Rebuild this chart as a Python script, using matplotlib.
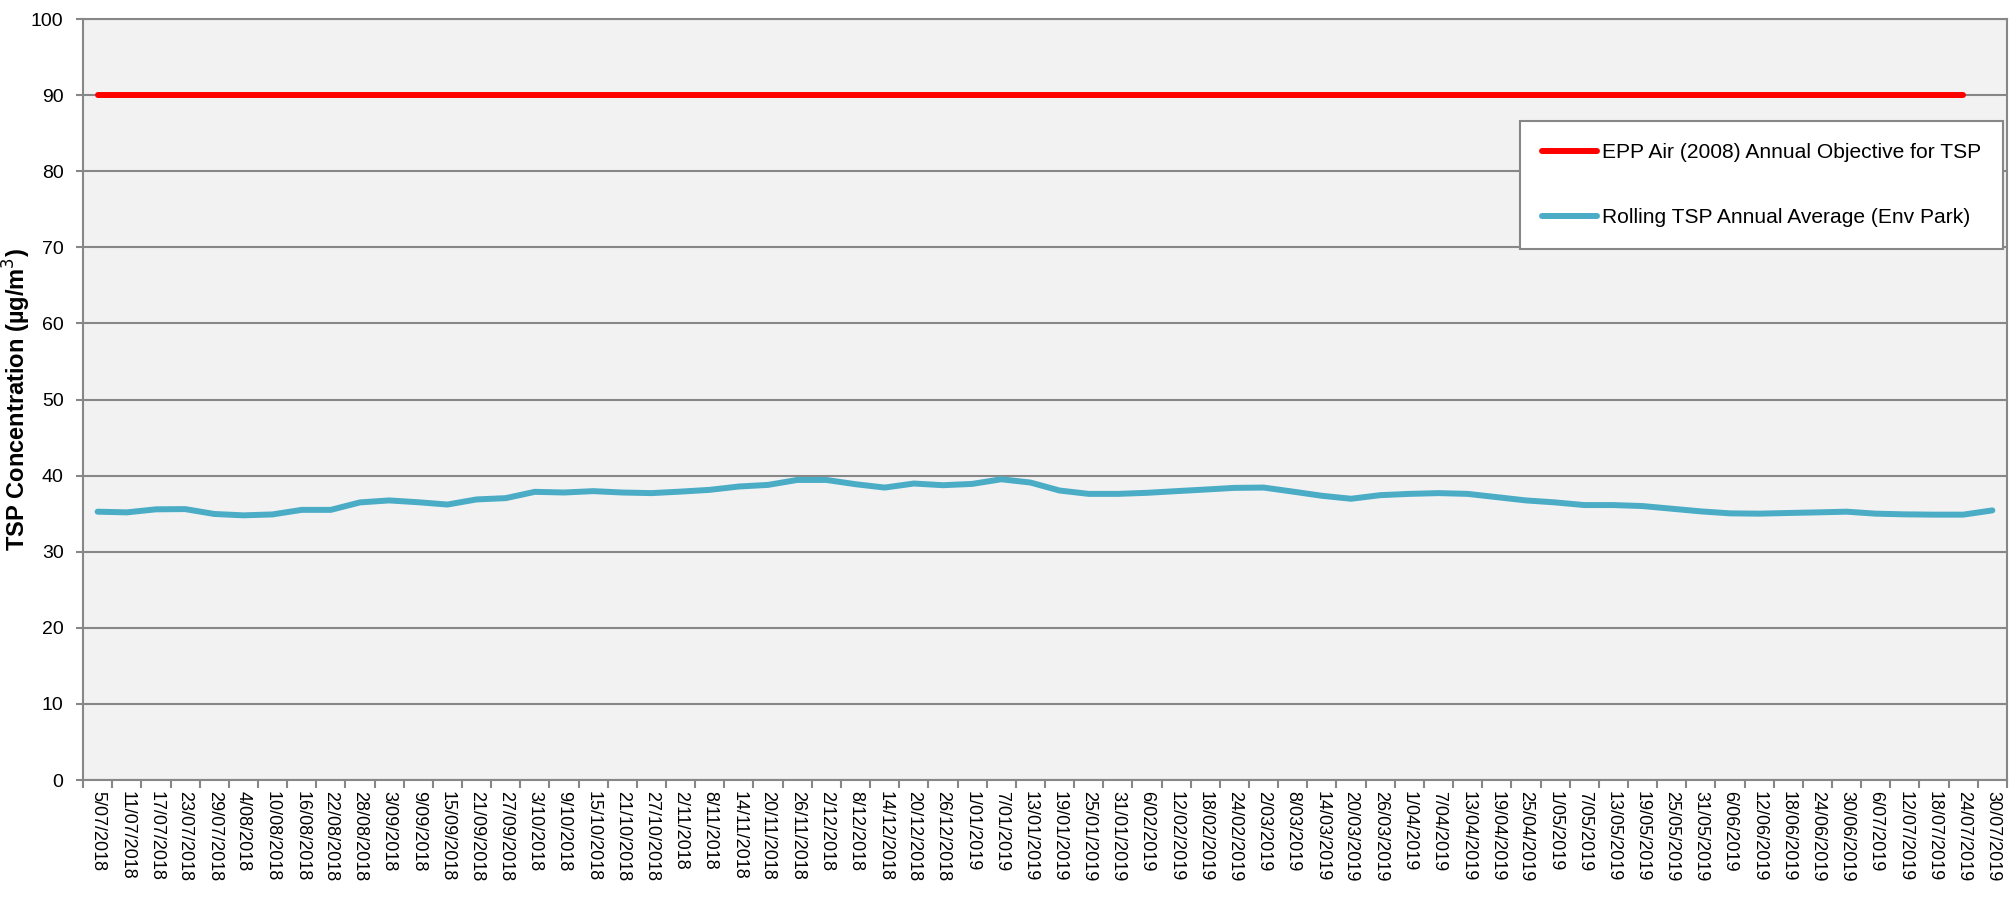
import matplotlib
matplotlib.use("Agg")
import matplotlib.pyplot as plt
import numpy as np

plt.rcParams["font.family"] = ["Liberation Sans", "DejaVu Sans"]

# Dates (every 6 days) used as category labels
dates = [
    "5/07/2018", "11/07/2018", "17/07/2018", "23/07/2018", "29/07/2018",
    "4/08/2018", "10/08/2018", "16/08/2018", "22/08/2018", "28/08/2018",
    "3/09/2018", "9/09/2018", "15/09/2018", "21/09/2018", "27/09/2018",
    "3/10/2018", "9/10/2018", "15/10/2018", "21/10/2018", "27/10/2018",
    "2/11/2018", "8/11/2018", "14/11/2018", "20/11/2018", "26/11/2018",
    "2/12/2018", "8/12/2018", "14/12/2018", "20/12/2018", "26/12/2018",
    "1/01/2019", "7/01/2019", "13/01/2019", "19/01/2019", "25/01/2019",
    "31/01/2019", "6/02/2019", "12/02/2019", "18/02/2019", "24/02/2019",
    "2/03/2019", "8/03/2019", "14/03/2019", "20/03/2019", "26/03/2019",
    "1/04/2019", "7/04/2019", "13/04/2019", "19/04/2019", "25/04/2019",
    "1/05/2019", "7/05/2019", "13/05/2019", "19/05/2019", "25/05/2019",
    "31/05/2019", "6/06/2019", "12/06/2019", "18/06/2019", "24/06/2019",
    "30/06/2019", "6/07/2019", "12/07/2019", "18/07/2019", "24/07/2019",
    "30/07/2019",
]

# Rolling TSP annual average (Env Park), ug/m3
rolling_tsp = [
    35.26, 35.17, 35.57, 35.60, 34.96, 34.78, 34.90, 35.50, 35.50, 36.48,
    36.74, 36.50, 36.20, 36.87, 37.04, 37.87, 37.78, 37.96, 37.78, 37.70,
    37.90, 38.13, 38.57, 38.78, 39.43, 39.43, 38.87, 38.43, 38.96, 38.74,
    38.91, 39.52, 39.09, 38.04, 37.60, 37.60, 37.74, 37.96, 38.17, 38.39,
    38.43, 37.90, 37.35, 36.96, 37.43, 37.60, 37.70, 37.60, 37.17, 36.74,
    36.48, 36.13, 36.13, 36.00, 35.65, 35.30, 35.04, 35.00, 35.09, 35.17,
    35.26, 35.00, 34.91, 34.87, 34.87, 35.43,
]

# EPP Air (2008) annual objective, ends at 24/07/2019
objective = [90] * 65 + [np.nan]

x = np.arange(len(dates))

fig = plt.figure(figsize=(20.16, 8.98), dpi=100)
ax = fig.add_axes([0.0412, 0.1314, 0.9543, 0.8474])
ax.set_facecolor("#f2f2f2")

grid_col = "#878787"
ax.plot(x, objective, color="#ff0000", lw=4.3, solid_capstyle="round",
        label="EPP Air (2008) Annual Objective for TSP", zorder=3)
ax.plot(x, rolling_tsp, color="#4bacc6", lw=4.3, solid_capstyle="round",
        solid_joinstyle="round", label="Rolling TSP Annual Average (Env Park)", zorder=3)

ax.set_xlim(-0.5, len(dates) - 0.5)
ax.set_ylim(0, 100)
ax.set_yticks(range(0, 101, 10))
ax.yaxis.grid(True, color=grid_col, lw=1.5)
ax.set_axisbelow(True)

# ticks between categories, labels centred on them
ax.set_xticks(np.arange(-0.5, len(dates), 1.0))
ax.set_xticklabels([])
ax.set_xticks(x, minor=True)
ax.set_xticklabels(dates, minor=True, rotation=-90, ha="center", va="top", fontsize=13)
ax.tick_params(axis="x", which="major", length=6, width=1.5, color=grid_col)
ax.tick_params(axis="x", which="minor", length=0, pad=8)
ax.tick_params(axis="y", length=5, width=1.5, color=grid_col, labelsize=14, pad=9)

for s in ax.spines.values():
    s.set_color(grid_col)
    s.set_linewidth(1.5)

ax.set_ylabel("TSP Concentration (µg/m$^{3}$)", fontsize=17, fontweight="bold")
ax.yaxis.set_label_coords(-0.026, 0.5)

leg = ax.legend(loc="upper right", bbox_to_anchor=(0.998, 0.866), fontsize=15.1,
                handlelength=2.6, handletextpad=0.25, labelspacing=2.2,
                borderpad=1.05, borderaxespad=0, fancybox=False, framealpha=1,
                edgecolor=grid_col)
leg.get_frame().set_linewidth(1.5)

plt.savefig("out.png", dpi=100)
